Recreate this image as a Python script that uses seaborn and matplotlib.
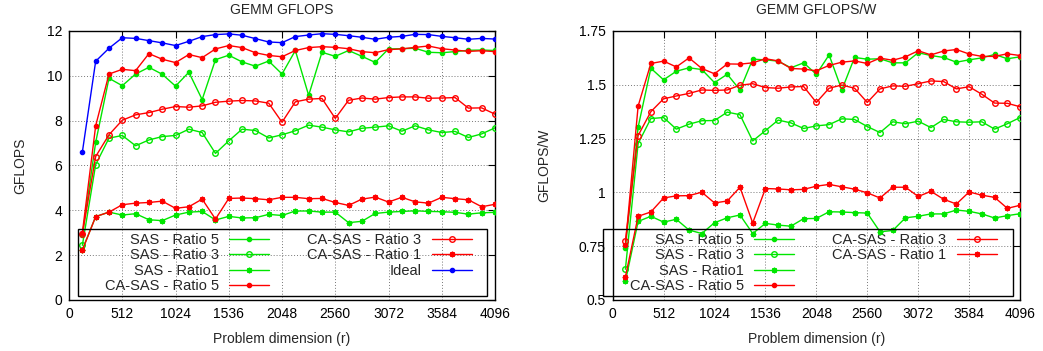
import numpy as np
import pandas as pd
import matplotlib
matplotlib.use("Agg")
import matplotlib.pyplot as plt
from matplotlib.lines import Line2D
from matplotlib.patches import Rectangle
import seaborn as sns

# problem sizes r = 128 .. 4096
r = np.arange(128, 4097, 128)

# GEMM GFLOPS (left panel)
gf_sas5 = [2.9, 7.03, 9.89, 9.56, 10.08, 10.38, 10.07, 9.54, 10.16, 8.94, 10.72, 10.92, 10.62, 10.43, 10.66, 10.08,
           11.13, 9.13, 11.05, 10.87, 11.13, 10.87, 10.60, 11.20, 11.21, 11.23, 11.05, 11.03, 11.08, 11.14, 11.15, 11.13]
gf_sas3 = [2.44, 6.04, 7.22, 7.34, 6.88, 7.14, 7.29, 7.34, 7.62, 7.47, 6.54, 7.10, 7.62, 7.56, 7.23, 7.37,
           7.55, 7.80, 7.71, 7.59, 7.50, 7.66, 7.71, 7.77, 7.53, 7.77, 7.59, 7.47, 7.52, 7.25, 7.41, 7.68]
gf_sas1 = [2.25, 3.72, 3.92, 3.79, 3.85, 3.58, 3.54, 3.79, 3.92, 3.95, 3.57, 3.73, 3.66, 3.67, 3.82, 3.77,
           3.97, 3.97, 3.92, 3.92, 3.45, 3.51, 3.86, 3.92, 3.95, 3.98, 3.95, 3.94, 3.91, 3.83, 3.89, 3.91]
gf_ca5 = [3.0, 7.77, 10.08, 10.29, 10.23, 10.99, 10.74, 10.59, 10.95, 10.81, 11.20, 11.35, 11.26, 11.03, 10.91, 10.85,
          11.13, 11.26, 11.30, 11.27, 11.21, 11.08, 11.03, 11.17, 11.20, 11.27, 11.33, 11.21, 11.15, 11.09, 11.12, 11.08]
gf_ca3 = [2.95, 6.40, 7.37, 8.02, 8.26, 8.36, 8.51, 8.63, 8.60, 8.66, 8.82, 8.87, 8.90, 8.88, 8.78, 7.93,
          8.84, 8.96, 8.99, 8.10, 8.91, 9.01, 8.96, 9.03, 9.06, 9.06, 9.00, 9.01, 9.03, 8.56, 8.57, 8.29]
gf_ca1 = [2.22, 3.72, 3.92, 4.25, 4.32, 4.35, 4.41, 4.09, 4.16, 4.50, 3.61, 4.53, 4.55, 4.52, 4.47, 4.58,
          4.58, 4.52, 4.53, 4.35, 4.22, 4.50, 4.59, 4.37, 4.58, 4.38, 4.32, 4.58, 4.52, 4.47, 4.16, 4.27]
gf_ideal = [6.60, 10.65, 11.23, 11.70, 11.67, 11.57, 11.47, 11.35, 11.54, 11.75, 11.84, 11.87, 11.81, 11.66, 11.51, 11.48,
            11.75, 11.82, 11.88, 11.85, 11.79, 11.72, 11.63, 11.72, 11.76, 11.85, 11.84, 11.76, 11.70, 11.63, 11.67, 11.64]

# GEMM GFLOPS/W (right panel)
gw_sas5 = [0.742, 1.303, 1.577, 1.523, 1.563, 1.579, 1.571, 1.510, 1.549, 1.476, 1.619, 1.616, 1.610, 1.579, 1.602, 1.549,
           1.639, 1.476, 1.627, 1.619, 1.621, 1.602, 1.602, 1.649, 1.636, 1.627, 1.605, 1.616, 1.625, 1.641, 1.621, 1.630]
gw_sas3 = [0.643, 1.227, 1.343, 1.348, 1.294, 1.317, 1.333, 1.334, 1.373, 1.361, 1.239, 1.287, 1.336, 1.323, 1.297, 1.309,
           1.315, 1.342, 1.339, 1.306, 1.278, 1.328, 1.319, 1.331, 1.301, 1.339, 1.328, 1.326, 1.328, 1.294, 1.319, 1.348]
gw_sas1 = [0.586, 0.865, 0.889, 0.862, 0.875, 0.825, 0.809, 0.859, 0.882, 0.895, 0.809, 0.856, 0.848, 0.843, 0.878, 0.879,
           0.910, 0.909, 0.906, 0.904, 0.817, 0.823, 0.882, 0.889, 0.900, 0.900, 0.918, 0.912, 0.900, 0.881, 0.892, 0.901]
gw_ca5 = [0.755, 1.401, 1.599, 1.610, 1.583, 1.625, 1.576, 1.551, 1.597, 1.596, 1.602, 1.621, 1.611, 1.576, 1.573, 1.565,
          1.590, 1.605, 1.611, 1.599, 1.624, 1.614, 1.630, 1.658, 1.639, 1.657, 1.664, 1.643, 1.632, 1.632, 1.644, 1.636]
gw_ca3 = [0.773, 1.264, 1.375, 1.435, 1.448, 1.460, 1.476, 1.474, 1.476, 1.498, 1.505, 1.487, 1.484, 1.490, 1.492, 1.418,
          1.484, 1.499, 1.484, 1.418, 1.481, 1.495, 1.493, 1.505, 1.518, 1.515, 1.481, 1.491, 1.456, 1.415, 1.414, 1.398]
gw_ca1 = [0.607, 0.889, 0.909, 0.974, 0.984, 0.985, 1.001, 0.951, 0.960, 1.024, 0.858, 1.018, 1.016, 1.012, 1.014, 1.029,
          1.037, 1.026, 1.015, 0.998, 0.974, 1.024, 1.024, 0.981, 1.005, 0.968, 0.946, 1.002, 0.987, 0.977, 0.926, 0.940]

x_ticks = [0, 512, 1024, 1536, 2048, 2560, 3072, 3584, 4096]
y_ticks_l = [0, 2, 4, 6, 8, 10, 12]
y_ticks_r = [0.5, 0.75, 1, 1.25, 1.5, 1.75]
y_labels_r = ["0.5", "0.75", "1", "1.25", "1.5", "1.75"]

GREEN = "#00e600"
RED = "#ff0000"
BLUE = "#0000ff"
STAR = (8, 2, 0)
W, H = 1043, 351

sns.set_style("white")
plt.rcParams["font.family"] = ["Liberation Sans", "DejaVu Sans"]
plt.rcParams["font.size"] = 10


def draw(ax, series):
    for y, label, color, marker, ms, open_m in series:
        sns.lineplot(x=r, y=y, ax=ax, color=color, marker=marker, markersize=ms,
                     mec=color, mew=1.0, mfc="none" if open_m else color,
                     lw=1.0, label=label, zorder=3)
    ax.set_xlim(0, 4096)
    ax.set_xticks(x_ticks)
    ax.grid(True, color="#777777", linestyle=(0, (1, 2)), lw=0.7)
    ax.tick_params(direction="in", top=True, right=True, length=5, width=0.8,
                   labelsize=10, pad=5, colors="black")
    for s in ax.spines.values():
        s.set_color("black")
        s.set_linewidth(1.0)
    ax.set_xlabel("Problem dimension (r)", fontsize=10, labelpad=8)


fig = plt.figure(figsize=(10.43, 3.51), dpi=100)
ax1 = fig.add_axes([0.0662, 0.1453, 0.4084, 0.7664])
ax2 = fig.add_axes([0.5874, 0.1453, 0.3906, 0.7664])

left_series = [
    (gf_sas5, "SAS - Ratio 5", GREEN, "o", 3, False),
    (gf_sas3, "SAS - Ratio 3", GREEN, "o", 4, True),
    (gf_sas1, "SAS - Ratio1", GREEN, STAR, 4, False),
    (gf_ca5, "CA-SAS - Ratio 5", RED, "o", 3, False),
    (gf_ca3, "CA-SAS - Ratio 3", RED, "o", 4, True),
    (gf_ca1, "CA-SAS - Ratio 1", RED, STAR, 4, False),
    (gf_ideal, "Ideal", BLUE, "o", 3, False),
]
right_series = [
    (gw_sas5, "SAS - Ratio 5", GREEN, "o", 3, False),
    (gw_sas3, "SAS - Ratio 3", GREEN, "o", 4, True),
    (gw_sas1, "SAS - Ratio1", GREEN, STAR, 4, False),
    (gw_ca5, "CA-SAS - Ratio 5", RED, "o", 3, False),
    (gw_ca3, "CA-SAS - Ratio 3", RED, "o", 4, True),
    (gw_ca1, "CA-SAS - Ratio 1", RED, STAR, 4, False),
]

draw(ax1, left_series)
ax1.set_ylim(0, 12)
ax1.set_yticks(y_ticks_l)
ax1.set_ylabel("GFLOPS", fontsize=10, labelpad=14)
ax1.set_title("GEMM GFLOPS", fontsize=10, pad=12)

draw(ax2, right_series)
ax2.set_ylim(0.5, 1.75)
ax2.set_yticks(y_ticks_r)
ax2.set_yticklabels(y_labels_r)
ax2.set_ylabel("GFLOPS/W", fontsize=10, labelpad=20)
ax2.set_title("GEMM GFLOPS/W", fontsize=10, pad=12)

leg_kw = dict(ncol=2, markerfirst=False, fontsize=10.5, handlelength=2.75,
              labelspacing=0.1, columnspacing=2.6, handletextpad=0.7,
              borderpad=0.2, borderaxespad=0, frameon=False, loc="lower left")


def legend_box(ax, handles, labels, x0, x1):
    # gnuplot-style key: transparent box, text right-aligned before the sample
    leg = ax.legend(handles, labels, bbox_to_anchor=((x0 + 24) / W, 1 - 296 / H),
                    bbox_transform=fig.transFigure, **leg_kw)
    leg.set_zorder(1.5)
    fig.patches.append(Rectangle((x0 / W, 1 - 296 / H), (x1 - x0) / W, 67 / H,
                                 transform=fig.transFigure, fill=False,
                                 edgecolor="black", lw=1.0, zorder=1.5))


h1, l1 = ax1.get_legend_handles_labels()
legend_box(ax1, h1, l1, 78, 487)

h2, l2 = ax2.get_legend_handles_labels()
blank = Line2D([], [], color="none")
legend_box(ax2, h2 + [blank], l2 + [""], 603, 1013)

fig.savefig("out.png", dpi=100)
